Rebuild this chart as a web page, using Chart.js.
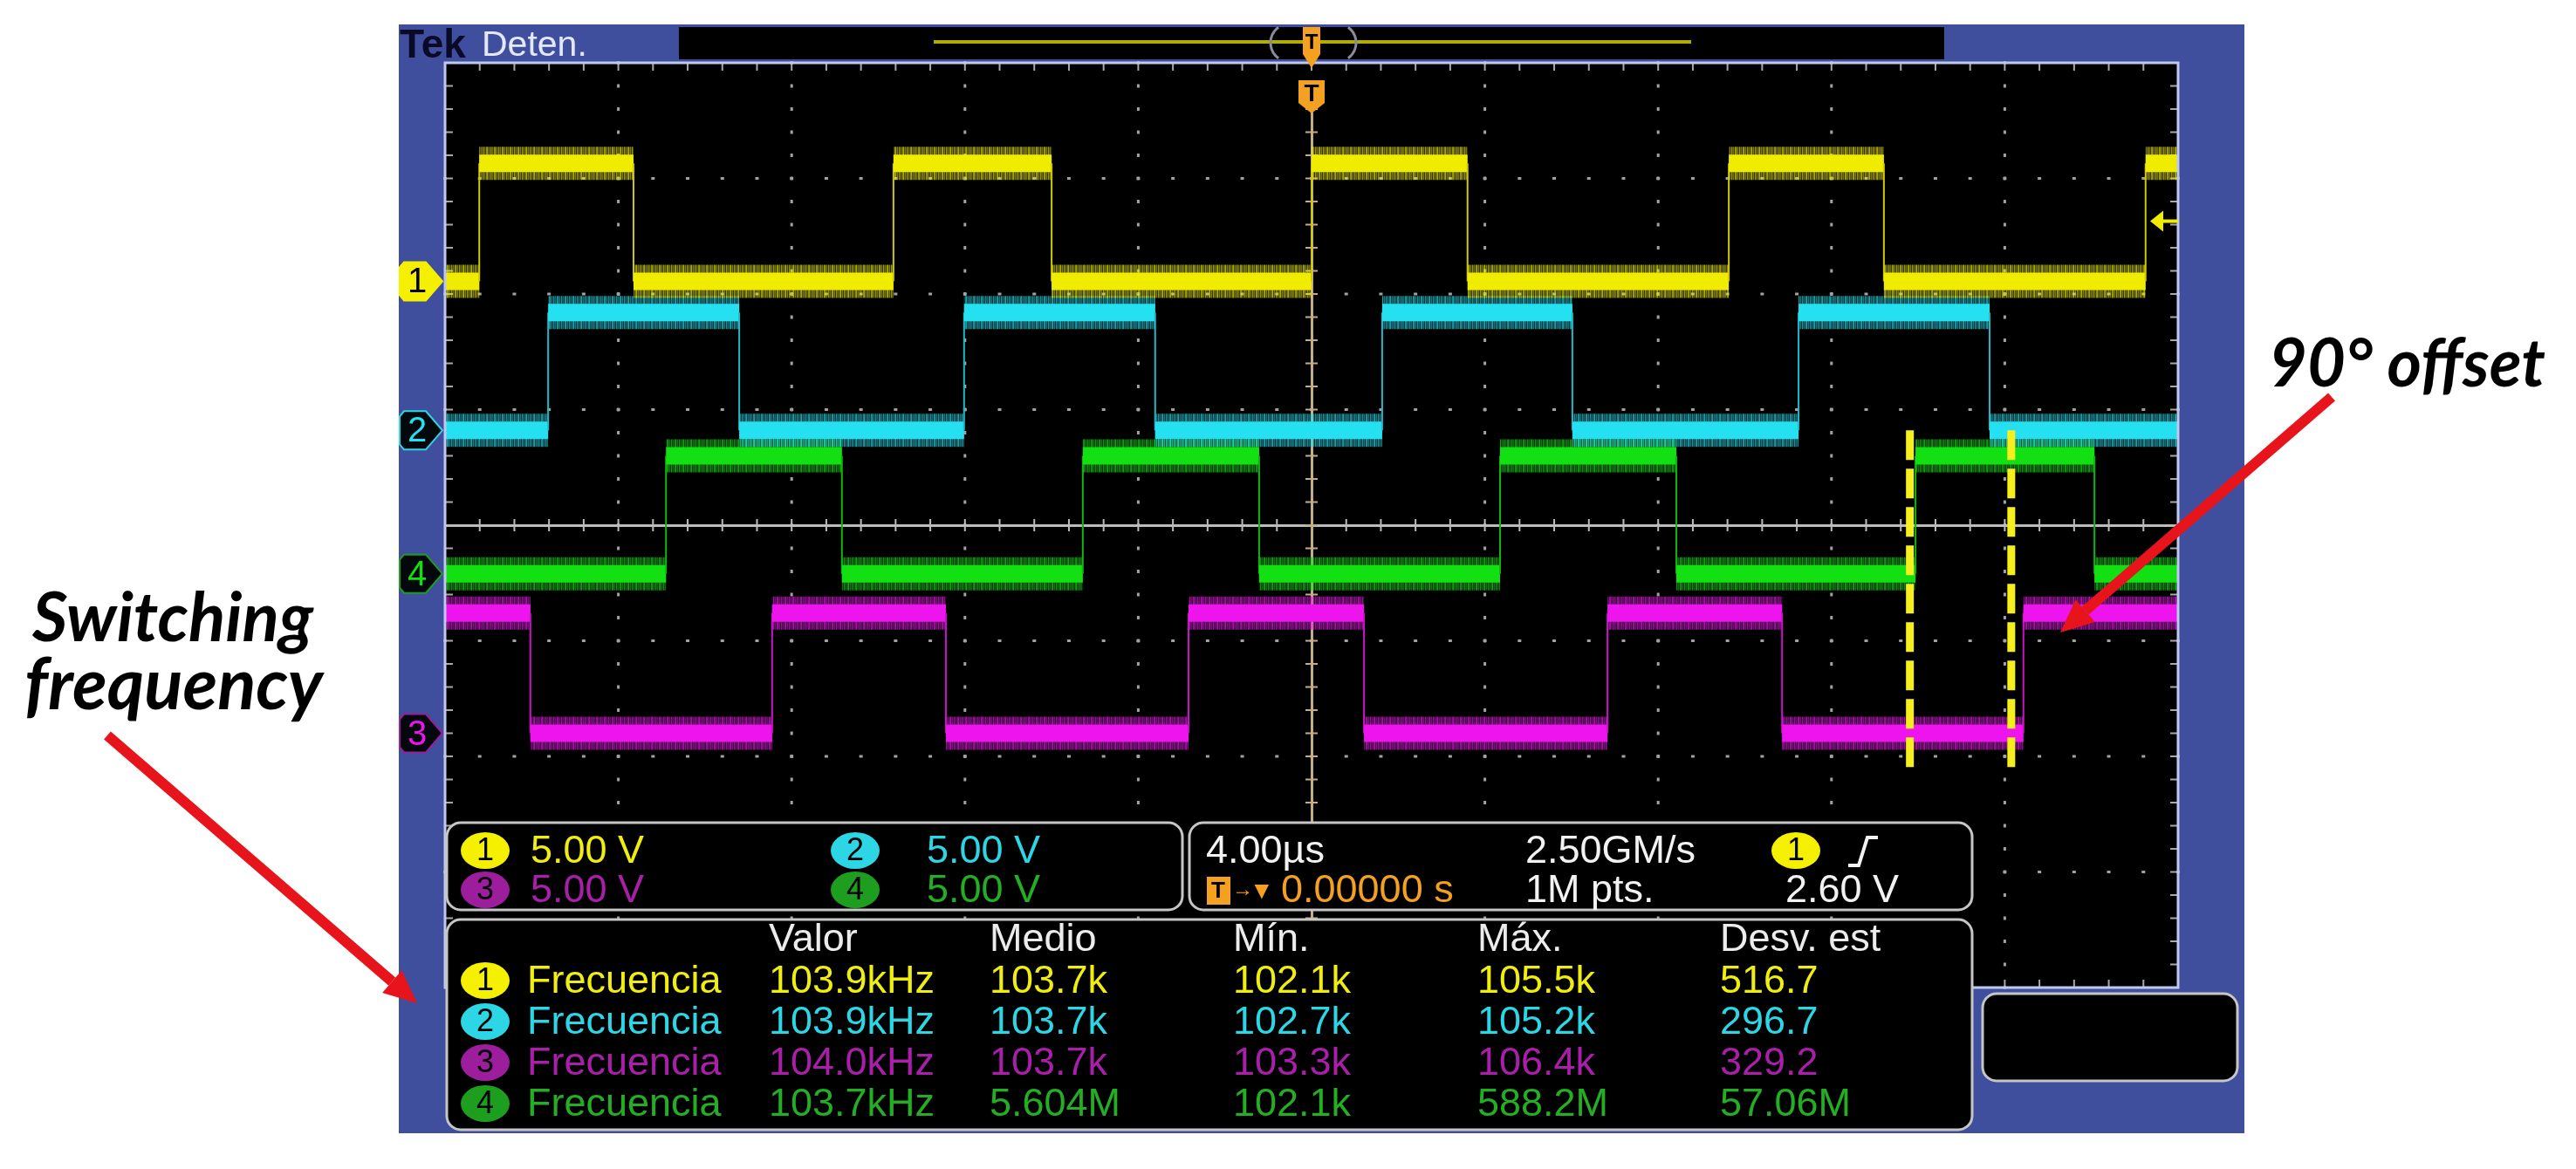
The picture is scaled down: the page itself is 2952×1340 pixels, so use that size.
<!DOCTYPE html>
<html>
<head>
<meta charset="utf-8">
<script src="https://cdn.jsdelivr.net/npm/chart.js@4.4.1/dist/chart.umd.min.js"></script>
<style>
  html, body { margin: 0; padding: 0; background: #fff; }
  #wrap { width: 2952px; height: 1340px; }
</style>
</head>
<body>
<div id="wrap"><canvas id="osc" width="2952" height="1340"></canvas></div>
<script>
// horizontal: µs (4.00 µs/div, trigger at 0) ; vertical: divisions (5.00 V/div)
const escalaTiempo = [-20, 20];
const escalaDiv = [-4, 4];
const voltsPorDiv = 5;

const canales = ['1', '2', '3', '4'];
const nivelInicial = [0, 0, 1, 0];            // level at left edge (0 low, 1 high)
const offsetDiv = [2.11, 0.82, -1.80, -0.42]; // ground marker of each channel
const nivelAlto = [5.1, 5.1, 5.2, 5.1];       // V

// edge times (µs)
const flancosCh1 = [-19.21, -15.65, -9.65, -6.00, 0.00, 3.60, 9.63, 13.21, 19.25];
const flancosCh2 = [-17.62, -13.21, -8.02, -3.61, 1.63, 6.02, 11.24, 15.65];
const flancosCh3 = [-18.03, -12.45, -8.44, -2.84, 1.21, 6.83, 10.86, 16.43];
const flancosCh4 = [-14.90, -10.84, -5.28, -1.21, 4.35, 8.42, 13.94, 18.07];

const nivelTrigger = 2.60;              // V, ch1
const marcasDesfase = [13.81, 16.15];   // µs, dashed markers (90° offset)
const rangoDesfase = [0.82, -2.14];     // divisions

// readouts
const escalaVertical = ['5.00 V', '5.00 V', '5.00 V', '5.00 V'];
const baseTiempo = '4.00µs';
const muestreo = '2.50GM/s';
const longitudReg = '1M pts.';
const posTrigger = '0.00000 s';
const cabeceras = ['Valor', 'Medio', 'Mín.', 'Máx.', 'Desv. est'];
const medida = 'Frecuencia';
const medValor = ['103.9kHz', '103.9kHz', '104.0kHz', '103.7kHz'];
const medMedio = ['103.7k', '103.7k', '103.7k', '5.604M'];
const medMin = ['102.1k', '102.7k', '103.3k', '102.1k'];
const medMax = ['105.5k', '105.2k', '106.4k', '588.2M'];
const medDesv = ['516.7', '296.7', '329.2', '57.06M'];

// colours
const colorTraza = ['#f0ec00', '#24e0f0', '#ee14ee', '#12e012'];
const colorFlanco = ['#cfc800', '#1fb8c8', '#c812c8', '#10b410'];
const rgbTraza = [[240, 236, 0], [36, 224, 240], [238, 20, 238], [18, 224, 18]];
const colorTexto = ['#f0ee10', '#2cd6e4', '#a91fa9', '#24ae24'];
const colorInsignia = ['#f4f000', '#2cd6e4', '#9c1e9c', '#1e9e1e'];
const AZUL = '#3f4f9e';
const NARANJA = '#f4a020';
const FUENTE = '"Liberation Sans", Arial, sans-serif';
const FUENTE_NOTA = 'Lato, "Open Sans", sans-serif';

// striped texture for the noisy fringe of each trace
function textura(rgb) {
  const alfas = [0.7, 0.3, 0.55, 0.2, 0.65, 0.35, 0.5, 0.25, 0.6];
  const c = document.createElement('canvas');
  c.width = alfas.length; c.height = 1;
  const g = c.getContext('2d');
  alfas.forEach((al, k) => {
    g.fillStyle = `rgba(${rgb[0]},${rgb[1]},${rgb[2]},${al})`;
    g.fillRect(k, 0, 1, 1);
  });
  return g.createPattern(c, 'repeat');
}

function puntosOnda(flancos, inicio, off, alto) {
  const nivel = e => off + (e ? alto : 0) / voltsPorDiv;
  let estado = inicio;
  const pts = [{ x: escalaTiempo[0], y: nivel(estado) }];
  flancos.forEach(t => {
    pts.push({ x: t, y: nivel(estado) });
    estado = 1 - estado;
    pts.push({ x: t, y: nivel(estado) });
  });
  pts.push({ x: escalaTiempo[1], y: nivel(estado) });
  return pts;
}

const flancos = [flancosCh1, flancosCh2, flancosCh3, flancosCh4];
const esVertical = c => c.p0.parsed.x === c.p1.parsed.x;

const datasets = [];
marcasDesfase.forEach(t => {
  datasets.push({
    data: [{ x: t, y: rangoDesfase[0] }, { x: t, y: rangoDesfase[1] }],
    borderColor: '#f6ef1c', borderWidth: 9, borderDash: [34, 10],
    pointRadius: 0, order: 0, clip: 0
  });
});
canales.forEach((c, i) => {
  const pts = puntosOnda(flancos[i], nivelInicial[i], offsetDiv[i], nivelAlto[i]);
  const halo = textura(rgbTraza[i]);
  datasets.push({
    data: pts, pointRadius: 0, order: 1, clip: 0, borderCapStyle: 'butt',
    borderColor: colorTraza[i],
    segment: {
      borderWidth: s => esVertical(s) ? 2 : 20,
      borderColor: s => esVertical(s) ? colorFlanco[i] : colorTraza[i]
    }
  });
  datasets.push({
    data: pts, pointRadius: 0, order: 2, clip: 0, borderCapStyle: 'butt',
    borderColor: halo,
    segment: {
      borderWidth: s => esVertical(s) ? 2 : 38,
      borderColor: s => esVertical(s) ? 'rgba(0,0,0,0)' : halo
    }
  });
});

function texto(ctx, s, x, y, color, size, weight, align) {
  ctx.font = `${weight || 'normal'} ${size}px ${FUENTE}`;
  ctx.fillStyle = color;
  ctx.textAlign = align || 'left';
  ctx.textBaseline = 'middle';
  ctx.fillText(s, x, y);
}

function insignia(ctx, num, cx, cy, fondo) {
  ctx.fillStyle = fondo;
  ctx.beginPath();
  ctx.ellipse(cx, cy, 28, 21, 0, 0, Math.PI * 2);
  ctx.fill();
  texto(ctx, num, cx, cy + 1, '#000', 36, 'normal', 'center');
}

function caja(ctx, x0, y0, x1, y1) {
  ctx.beginPath();
  ctx.roundRect(x0, y0, x1 - x0, y1 - y0, 16);
  ctx.fillStyle = '#000';
  ctx.fill();
  ctx.strokeStyle = '#c6c6c6';
  ctx.lineWidth = 3;
  ctx.stroke();
}

function flecha(ctx, x0, y0, x1, y1) {
  const ang = Math.atan2(y1 - y0, x1 - x0);
  const largo = 38, ancho = 17;
  const bx = x1 - largo * Math.cos(ang), by = y1 - largo * Math.sin(ang);
  ctx.strokeStyle = '#e8141c';
  ctx.fillStyle = '#e8141c';
  ctx.lineWidth = 12;
  ctx.lineCap = 'butt';
  ctx.beginPath(); ctx.moveTo(x0, y0); ctx.lineTo(bx, by); ctx.stroke();
  ctx.beginPath();
  ctx.moveTo(x1, y1);
  ctx.lineTo(bx + ancho * Math.sin(ang), by - ancho * Math.cos(ang));
  ctx.lineTo(bx - ancho * Math.sin(ang), by + ancho * Math.cos(ang));
  ctx.closePath(); ctx.fill();
}

function nota(ctx, s, x, baseline, anchoObjetivo) {
  ctx.font = `italic bold 80px ${FUENTE_NOTA}`;
  const w = ctx.measureText(s).width;
  const size = 80 * anchoObjetivo / w;
  ctx.font = `italic bold ${size}px ${FUENTE_NOTA}`;
  ctx.fillStyle = '#000';
  ctx.textAlign = 'left';
  ctx.textBaseline = 'alphabetic';
  ctx.fillText(s, x, baseline);
}

const pantalla = {
  id: 'pantalla',
  beforeDraw(chart) {
    const { ctx, chartArea: a } = chart;
    ctx.save();
    ctx.fillStyle = '#fff';
    ctx.fillRect(0, 0, chart.width, chart.height);
    ctx.fillStyle = AZUL;
    ctx.fillRect(457, 28, 2572 - 457, 1299 - 28);
    ctx.fillStyle = '#000';
    ctx.fillRect(778, 31, 2228 - 778, 37);
    ctx.fillRect(a.left, a.top, a.right - a.left, a.bottom - a.top);
    ctx.restore();
  },
  beforeDatasetsDraw(chart) {
    const { ctx, chartArea: a, scales: { x: xs, y: ys } } = chart;
    ctx.save();
    const menX = [], menY = [];
    for (let i = 0; i <= 50; i++) menX.push(xs.getPixelForValue(escalaTiempo[0] + i * 0.8));
    for (let j = 0; j <= 40; j++) menY.push(ys.getPixelForValue(escalaDiv[0] + j * 0.2));
    ctx.fillStyle = '#a2a2a2';
    menX.forEach((px, i) => {
      if (i % 5 || i === 0 || i === 25 || i === 50) return;
      menY.forEach(py => ctx.fillRect(px - 1.5, py - 2, 3, 4));
    });
    menY.forEach((py, j) => {
      if (j % 5 || j === 0 || j === 20 || j === 40) return;
      menX.forEach(px => ctx.fillRect(px - 2, py - 1.5, 4, 3));
    });
    // edge ticks
    ctx.fillStyle = '#a8a8a8';
    menX.forEach(px => {
      ctx.fillRect(px - 1, a.top, 2, 9);
      ctx.fillRect(px - 1, a.bottom - 9, 2, 9);
    });
    menY.forEach(py => {
      ctx.fillRect(a.left, py - 1, 9, 2);
      ctx.fillRect(a.right - 9, py - 1, 9, 2);
    });
    // centre cross
    const cx = xs.getPixelForValue(0), cy = ys.getPixelForValue(0);
    ctx.fillStyle = '#bcbcbc';
    ctx.fillRect(a.left, cy - 1, a.right - a.left, 3);
    menX.forEach(px => ctx.fillRect(px - 1, cy - 7, 2, 14));
    ctx.fillStyle = '#c4ad84';
    ctx.fillRect(cx - 1, 128, 3, a.bottom - 128);
    menY.forEach(py => ctx.fillRect(cx - 7, py - 1, 14, 2));
    ctx.restore();
  },
  afterDatasetsDraw(chart) {
    const { ctx, chartArea: a, scales: { x: xs, y: ys } } = chart;
    ctx.save();
    // graticule border
    ctx.strokeStyle = '#c0c8ec';
    ctx.lineWidth = 3;
    ctx.strokeRect(a.left, a.top, a.right - a.left, a.bottom - a.top);

    // channel ground markers
    canales.forEach((c, i) => {
      const y = ys.getPixelForValue(offsetDiv[i]);
      ctx.beginPath();
      ctx.moveTo(463, y - 22); ctx.lineTo(488, y - 22); ctx.lineTo(507, y);
      ctx.lineTo(488, y + 22); ctx.lineTo(463, y + 22); ctx.lineTo(458, y + 16);
      ctx.lineTo(458, y - 16); ctx.closePath();
      const lleno = i === 0;
      ctx.fillStyle = lleno ? colorInsignia[i] : '#03080c';
      ctx.fill();
      ctx.strokeStyle = colorInsignia[i];
      ctx.lineWidth = 2;
      ctx.stroke();
      texto(ctx, c, 478, y + 2, lleno ? '#000' : colorTraza[i], 40, 'normal', 'center');
    });

    // trigger level arrow (ch1)
    const yt = ys.getPixelForValue(offsetDiv[0] + nivelTrigger / voltsPorDiv);
    ctx.fillStyle = colorTraza[0];
    ctx.beginPath();
    ctx.moveTo(a.right - 32, yt); ctx.lineTo(a.right - 17, yt - 12); ctx.lineTo(a.right - 17, yt + 12);
    ctx.closePath(); ctx.fill();
    ctx.fillRect(a.right - 18, yt - 2, 18, 4);

    // header
    ctx.font = `bold 46px ${FUENTE}`;
    ctx.fillStyle = '#0a0a28';
    ctx.textAlign = 'left'; ctx.textBaseline = 'alphabetic';
    ctx.fillText('Tek', 458, 66);
    ctx.font = `normal 41px ${FUENTE}`;
    ctx.fillStyle = '#e4e8ff';
    ctx.fillText('Deten.', 552, 64);
    ctx.fillStyle = '#b4ac00';
    ctx.fillRect(1070, 46, 1938 - 1070, 4);
    ctx.strokeStyle = '#8a8a9a'; ctx.lineWidth = 3;
    ctx.beginPath(); ctx.arc(1478, 49, 22, Math.PI * 0.7, Math.PI * 1.3); ctx.stroke();
    ctx.beginPath(); ctx.arc(1532, 49, 22, -Math.PI * 0.3, Math.PI * 0.3); ctx.stroke();
    const xt = xs.getPixelForValue(0);
    ctx.fillStyle = NARANJA;
    ctx.beginPath();
    ctx.moveTo(xt - 10, 31); ctx.lineTo(xt + 10, 31); ctx.lineTo(xt + 10, 62);
    ctx.lineTo(xt, 78); ctx.lineTo(xt - 10, 62); ctx.closePath(); ctx.fill();
    texto(ctx, 'T', xt, 49, '#000', 24, 'bold', 'center');
    ctx.fillStyle = NARANJA;
    ctx.beginPath();
    ctx.moveTo(xt - 15, 92); ctx.lineTo(xt + 15, 92); ctx.lineTo(xt + 15, 118);
    ctx.lineTo(xt, 130); ctx.lineTo(xt - 15, 118); ctx.closePath(); ctx.fill();
    texto(ctx, 'T', xt, 108, '#000', 28, 'bold', 'center');

    // vertical scale box
    caja(ctx, 512, 943, 1355, 1043);
    const filasCaja = [975, 1020];
    const insX = [556, 980], txtX = [608, 1062];
    [[0, 1], [2, 3]].forEach((par, f) => {
      par.forEach((ch, k) => {
        insignia(ctx, canales[ch], insX[k], filasCaja[f], colorInsignia[ch]);
        texto(ctx, escalaVertical[ch], txtX[k], filasCaja[f] + 2, colorTexto[ch], 45);
      });
    });

    // timebase / trigger box
    caja(ctx, 1363, 943, 2260, 1043);
    texto(ctx, baseTiempo, 1382, filasCaja[0] + 2, '#f2f2f2', 45);
    texto(ctx, muestreo, 1748, filasCaja[0] + 2, '#f2f2f2', 45);
    insignia(ctx, canales[0], 2058, filasCaja[0], colorInsignia[0]);
    ctx.strokeStyle = '#f2f2f2'; ctx.lineWidth = 4;
    ctx.beginPath();
    ctx.moveTo(2118, 992); ctx.lineTo(2130, 992);
    ctx.lineTo(2140, 960); ctx.lineTo(2152, 960); ctx.stroke();
    ctx.fillStyle = NARANJA;
    ctx.fillRect(1383, 1005, 27, 32);
    texto(ctx, 'T', 1396, 1022, '#000', 26, 'bold', 'center');
    texto(ctx, '→', 1412, 1020, NARANJA, 24);
    texto(ctx, '▼', 1432, 1022, NARANJA, 28);
    texto(ctx, posTrigger, 1468, filasCaja[1] + 2, NARANJA, 45);
    texto(ctx, longitudReg, 1748, filasCaja[1] + 2, '#f2f2f2', 45);
    texto(ctx, `${nivelTrigger.toFixed(2)} V`, 2046, filasCaja[1] + 2, '#f2f2f2', 45);

    // measurement box
    caja(ctx, 512, 1054, 2260, 1295);
    const colX = [881, 1134, 1413, 1693, 1971];
    cabeceras.forEach((h, k) => texto(ctx, h, colX[k], 1078, '#ececec', 45));
    const filasMed = [1124, 1171, 1218, 1265];
    const columnas = [medValor, medMedio, medMin, medMax, medDesv];
    canales.forEach((c, i) => {
      const y = filasMed[i];
      insignia(ctx, c, 556, y, colorInsignia[i]);
      texto(ctx, medida, 604, y + 2, colorTexto[i], 45);
      columnas.forEach((col, k) => texto(ctx, col[i], colX[k], y + 2, colorTexto[i], 45));
    });

    // empty side box
    caja(ctx, 2272, 1139, 2564, 1239);

    // annotations
    nota(ctx, 'Switching', 37, 735, 322);
    nota(ctx, 'frequency', 28, 813, 342);
    nota(ctx, '90° offset', 2600, 443, 317);
    flecha(ctx, 123, 843, 478, 1150);
    flecha(ctx, 2672, 455, 2361, 725);
    ctx.restore();
  }
};

new Chart(document.getElementById('osc'), {
  type: 'line',
  data: { datasets },
  options: {
    responsive: false,
    animation: false,
    events: [],
    layout: { padding: { left: 510, top: 72, right: 2952 - 2496, bottom: 1340 - 1132 } },
    scales: {
      x: { type: 'linear', min: escalaTiempo[0], max: escalaTiempo[1], display: false },
      y: { type: 'linear', min: escalaDiv[0], max: escalaDiv[1], display: false }
    },
    plugins: { legend: { display: false }, tooltip: { enabled: false } }
  },
  plugins: [pantalla]
});
</script>
</body>
</html>
